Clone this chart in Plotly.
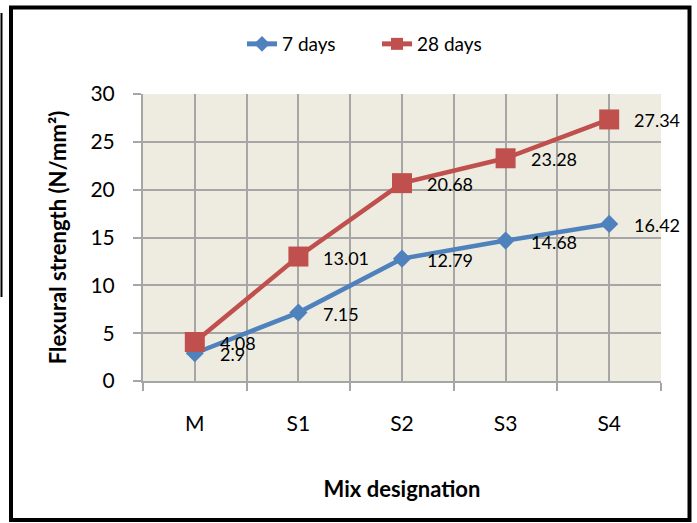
import plotly.graph_objects as go

# Flexural strength by mix designation
mixes = ["M", "S1", "S2", "S3", "S4"]
days7 = [2.9, 7.15, 12.79, 14.68, 16.42]
days28 = [4.08, 13.01, 20.68, 23.28, 27.34]
y_ticks = [0, 5, 10, 15, 20, 25, 30]

BLUE = "#4F81BD"
RED = "#C0504D"
GRID = "#A6A6A6"
FONT = "Lato"

xpos = list(range(len(mixes)))

fig = go.Figure()
fig.add_trace(go.Scatter(
    x=xpos, y=days7, name="7 days", mode="lines+markers",
    line=dict(color=BLUE, width=4.5),
    marker=dict(symbol="diamond", size=14, color=BLUE),
))
fig.add_trace(go.Scatter(
    x=xpos, y=days28, name="28 days", mode="lines+markers",
    line=dict(color=RED, width=4.5),
    marker=dict(symbol="square", size=20, color=RED),
))

# value labels to the right of each point
annotations = []
for series in (days7, days28):
    for xi, v in zip(xpos, series):
        annotations.append(dict(
            x=xi, y=v, xref="x", yref="y", text=f"{v:g}",
            showarrow=False, xanchor="left", yanchor="middle",
            xshift=23, yshift=-1,
            font=dict(family=FONT, size=18, color="#000000"),
        ))

fig.update_layout(
    width=697, height=523,
    margin=dict(l=143, r=36, t=94, b=142),
    paper_bgcolor="#FFFFFF",
    plot_bgcolor="#EEECE1",
    font=dict(family=FONT, color="#000000"),
    showlegend=True,
    legend=dict(
        orientation="h", xref="container", yref="container",
        x=242 / 697, y=1 - 44 / 523, xanchor="left", yanchor="middle",
        font=dict(family=FONT, size=19, color="#000000"),
        bgcolor="rgba(0,0,0,0)", itemsizing="constant",
        entrywidth=90, entrywidthmode="pixels",
    ),
    annotations=annotations,
    xaxis=dict(
        range=[-0.5, len(mixes) - 0.5],
        tickvals=xpos, ticktext=mixes,
        ticks="", ticklabelstandoff=23,
        tickfont=dict(family=FONT, size=21, color="#000000"),
        showgrid=True, gridcolor=GRID, gridwidth=2,
        showline=True, linecolor=GRID, linewidth=2,
        zeroline=False,
        minor=dict(
            tickvals=[i - 0.5 for i in range(len(mixes) + 1)],
            ticks="outside", ticklen=8, tickwidth=2, tickcolor=GRID,
            showgrid=True, gridcolor=GRID, gridwidth=2,
        ),
        title=dict(text="<b>Mix designation</b>", standoff=47,
                   font=dict(family=FONT, size=22, color="#000000")),
        automargin=False,
    ),
    yaxis=dict(
        range=[0, 30], tickvals=y_ticks,
        ticks="outside", ticklen=8, tickwidth=2, tickcolor=GRID,
        ticklabelstandoff=14,
        tickfont=dict(family=FONT, size=21, color="#000000"),
        showgrid=True, gridcolor=GRID, gridwidth=2,
        showline=True, linecolor=GRID, linewidth=2,
        zeroline=False,
        title=dict(text="<b>Flexural strength (N/mm²)</b>", standoff=18,
                   font=dict(family=FONT, size=22, color="#000000")),
        automargin=False,
    ),
)

# chart frame and the stray edge line at the far left
fig.add_shape(type="rect", xref="paper", yref="paper",
              x0=(11 - 143) / 518, x1=(689.5 - 143) / 518,
              y0=(381 - 520) / 287, y1=(381 - 7.5) / 287,
              line=dict(color="#000000", width=4), layer="above")
fig.add_shape(type="line", xref="paper", yref="paper",
              x0=(1.5 - 143) / 518, x1=(1.5 - 143) / 518,
              y0=(381 - 297) / 287, y1=(381 - 13) / 287,
              line=dict(color="#000000", width=2), layer="above")

fig.write_html("out.html")
